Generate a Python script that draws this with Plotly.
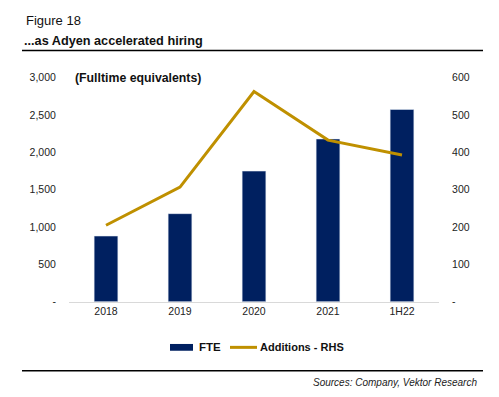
import plotly.graph_objects as go

categories = ["2018", "2019", "2020", "2021", "1H22"]
fte = [880, 1180, 1750, 2180, 2575]
additions = [205, 307, 563, 433, 393]

left_tickvals = [0, 500, 1000, 1500, 2000, 2500, 3000]
left_ticktext = ["-", "500", "1,000", "1,500", "2,000", "2,500", "3,000"]
right_tickvals = [0, 100, 200, 300, 400, 500, 600]
right_ticktext = ["-", "100", "200", "300", "400", "500", "600"]

W, H = 499, 397
NAVY = "#002060"
GOLD = "#BF9000"
FONT = "Liberation Sans Narrow, Arial Narrow, Liberation Sans, Arial, sans-serif"

def px(x):
    return x / W

def py(y):
    return 1 - y / H

fig = go.Figure()
fig.add_trace(go.Bar(x=categories, y=fte, marker_color=NAVY, width=0.32,
                     name="FTE", yaxis="y", showlegend=False))
fig.add_trace(go.Scatter(x=categories, y=additions, mode="lines",
                         line=dict(color=GOLD, width=3), name="Additions - RHS",
                         yaxis="y2", showlegend=False))

fig.update_layout(
    width=W, height=H,
    margin=dict(l=0, r=0, t=0, b=0),
    paper_bgcolor="white", plot_bgcolor="white",
    font=dict(family=FONT, size=11, color="#222222"),
    xaxis=dict(domain=[px(69), px(439)], showgrid=False, showline=True,
               linecolor="#d9d9d9", linewidth=1, ticks="", zeroline=False,
               tickfont=dict(size=10.5, color="#222222")),
    yaxis=dict(domain=[py(305), py(74)], range=[0, 3000], tickvals=left_tickvals,
               ticktext=left_ticktext, showgrid=False, zeroline=False,
               ticks="outside", ticklen=10, tickcolor="rgba(0,0,0,0)",
               tickfont=dict(size=10.5, color="#222222")),
    yaxis2=dict(domain=[py(305), py(74)], range=[0, 600], overlaying="y", side="right",
                anchor="x", tickvals=right_tickvals, ticktext=right_ticktext,
                showgrid=False, zeroline=False, ticks="outside", ticklen=10,
                tickcolor="rgba(0,0,0,0)", tickfont=dict(size=10.5, color="#222222")),
)

annotations = [
    dict(text="Figure 18", x=px(24), y=py(15), xanchor="left", yanchor="middle",
         font=dict(size=13, color="#111111")),
    dict(text="<b>...as Adyen accelerated hiring</b>", x=px(22), y=py(36),
         xanchor="left", yanchor="middle", font=dict(size=12.7, color="#111111")),
    dict(text="<b>(Fulltime equivalents)</b>", x=px(73), y=py(74), xanchor="left",
         yanchor="middle", font=dict(size=12.3, color="#111111")),
    dict(text="<b>FTE</b>", x=px(197), y=py(352), xanchor="left", yanchor="middle",
         font=dict(size=11.5, color="#111111")),
    dict(text="<b>Additions - RHS</b>", x=px(258), y=py(352), xanchor="left",
         yanchor="middle", font=dict(size=11, color="#111111")),
    dict(text="<i>Sources: Company, Vektor Research</i>", x=px(479), y=py(388),
         xanchor="right", yanchor="middle", font=dict(size=10, color="#222222")),
]
for a in annotations:
    a.update(xref="paper", yref="paper", showarrow=False)
fig.update_layout(annotations=annotations)

shapes = [
    dict(type="line", x0=px(22), x1=px(483), y0=py(46), y1=py(46),
         line=dict(color="black", width=1.5)),
    dict(type="line", x0=px(22), x1=px(483), y0=py(376), y1=py(376),
         line=dict(color="black", width=1.5)),
    dict(type="rect", x0=px(170), x1=px(193), y0=py(355.5), y1=py(348.5),
         fillcolor=NAVY, line=dict(width=0)),
    dict(type="line", x0=px(230), x1=px(257), y0=py(352), y1=py(352),
         line=dict(color=GOLD, width=3)),
]
for s in shapes:
    s.update(xref="paper", yref="paper")
fig.update_layout(shapes=shapes)

fig.write_html("out.html", config={"displayModeBar": False},
               post_script="document.body.style.margin='0';document.body.style.overflow='hidden';")
